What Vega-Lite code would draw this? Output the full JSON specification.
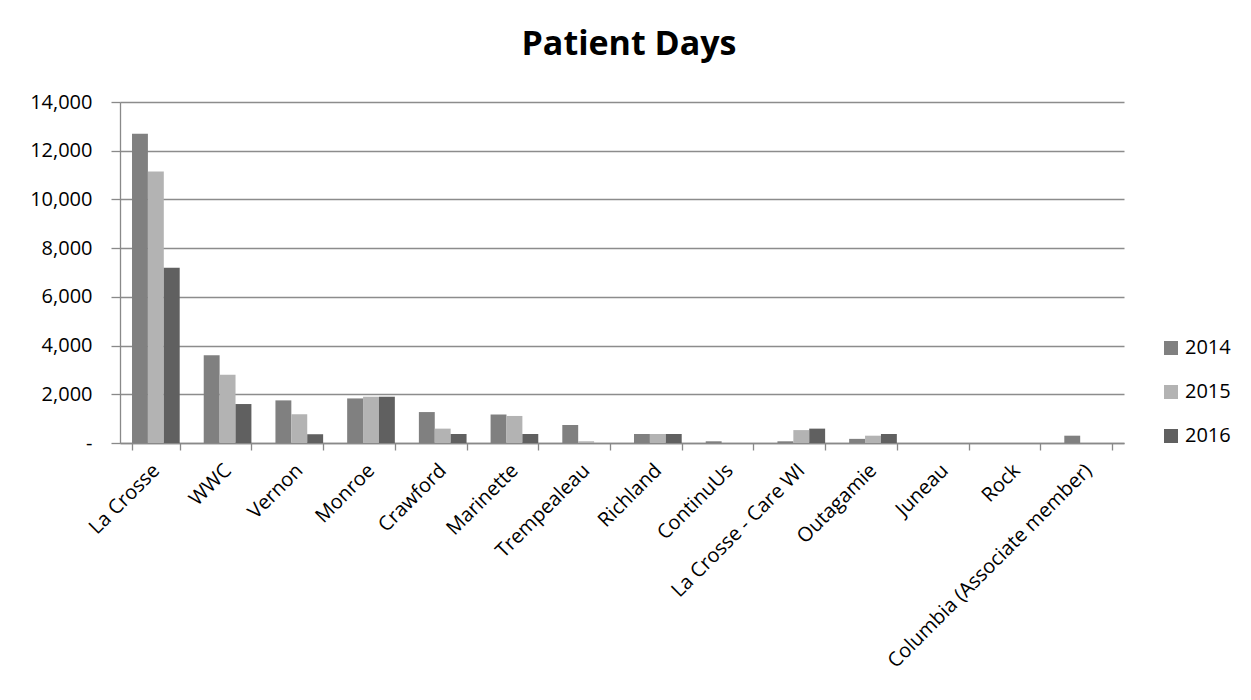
{
  "$schema": "https://vega.github.io/schema/vega-lite/v6.json",
  "autosize": "none",
  "width": 1004,
  "height": 341,
  "padding": {"left": 120, "top": 102, "right": 127, "bottom": 257},
  "background": "white",
  "config": {
    "font": "Open Sans",
    "view": {"stroke": null}
  },
  "title": {
    "text": "Patient Days",
    "fontSize": 34,
    "fontWeight": "bold",
    "font": "Open Sans",
    "color": "#000000",
    "anchor": "middle",
    "dx": 7,
    "offset": 30
  },
  "data": {
    "values": [
      {"county": "La Crosse", "year": "2014", "days": 12700},
      {"county": "La Crosse", "year": "2015", "days": 11150},
      {"county": "La Crosse", "year": "2016", "days": 7200},
      {"county": "WWC", "year": "2014", "days": 3600},
      {"county": "WWC", "year": "2015", "days": 2800},
      {"county": "WWC", "year": "2016", "days": 1600},
      {"county": "Vernon", "year": "2014", "days": 1750},
      {"county": "Vernon", "year": "2015", "days": 1180},
      {"county": "Vernon", "year": "2016", "days": 360},
      {"county": "Monroe", "year": "2014", "days": 1830},
      {"county": "Monroe", "year": "2015", "days": 1900},
      {"county": "Monroe", "year": "2016", "days": 1900},
      {"county": "Crawford", "year": "2014", "days": 1270},
      {"county": "Crawford", "year": "2015", "days": 590},
      {"county": "Crawford", "year": "2016", "days": 370},
      {"county": "Marinette", "year": "2014", "days": 1170},
      {"county": "Marinette", "year": "2015", "days": 1110},
      {"county": "Marinette", "year": "2016", "days": 370},
      {"county": "Trempealeau", "year": "2014", "days": 740},
      {"county": "Trempealeau", "year": "2015", "days": 70},
      {"county": "Trempealeau", "year": "2016", "days": 0},
      {"county": "Richland", "year": "2014", "days": 370},
      {"county": "Richland", "year": "2015", "days": 370},
      {"county": "Richland", "year": "2016", "days": 370},
      {"county": "ContinuUs", "year": "2014", "days": 70},
      {"county": "ContinuUs", "year": "2015", "days": 0},
      {"county": "ContinuUs", "year": "2016", "days": 0},
      {"county": "La Crosse - Care WI", "year": "2014", "days": 70},
      {"county": "La Crosse - Care WI", "year": "2015", "days": 530},
      {"county": "La Crosse - Care WI", "year": "2016", "days": 590},
      {"county": "Outagamie", "year": "2014", "days": 170},
      {"county": "Outagamie", "year": "2015", "days": 300},
      {"county": "Outagamie", "year": "2016", "days": 370},
      {"county": "Juneau", "year": "2014", "days": 0},
      {"county": "Juneau", "year": "2015", "days": 0},
      {"county": "Juneau", "year": "2016", "days": 0},
      {"county": "Rock", "year": "2014", "days": 0},
      {"county": "Rock", "year": "2015", "days": 0},
      {"county": "Rock", "year": "2016", "days": 0},
      {"county": "Columbia (Associate member)", "year": "2014", "days": 300},
      {"county": "Columbia (Associate member)", "year": "2015", "days": 0},
      {"county": "Columbia (Associate member)", "year": "2016", "days": 0}
    ]
  },
  "mark": {"type": "bar"},
  "encoding": {
    "x": {
      "field": "county",
      "type": "nominal",
      "sort": null,
      "title": null,
      "scale": {"paddingInner": 0.335, "paddingOuter": 0.1675},
      "axis": {
        "tickBand": "extent",
        "labelAngle": -45,
        "labelAlign": "right",
        "labelBaseline": "middle",
        "labelFontSize": 20,
        "labelColor": "#000000",
        "labelPadding": 17,
        "labelLimit": 400,
        "domainColor": "#898989",
        "domainWidth": 1.3,
        "tickColor": "#898989",
        "tickWidth": 1.3,
        "tickSize": 7,
        "grid": false
      }
    },
    "xOffset": {"field": "year", "type": "nominal", "scale": {"paddingInner": 0, "paddingOuter": 0}},
    "y": {
      "field": "days",
      "type": "quantitative",
      "title": null,
      "scale": {"domain": [0, 14000], "nice": false},
      "axis": {
        "values": [0, 2000, 4000, 6000, 8000, 10000, 12000, 14000],
        "labelExpr": "datum.value === 0 ? '-\u00a0\u00a0' : format(datum.value, ',')",
        "labelFontSize": 20,
        "labelColor": "#000000",
        "labelPadding": 19,
        "tickSize": 9,
        "tickColor": "#898989",
        "tickWidth": 1.3,
        "domainColor": "#898989",
        "domainWidth": 1.3,
        "grid": true,
        "gridColor": "#8c8c8c",
        "gridWidth": 1.3
      }
    },
    "color": {
      "field": "year",
      "type": "nominal",
      "title": null,
      "scale": {"domain": ["2014", "2015", "2016"], "range": ["#808080", "#b3b3b3", "#606060"]},
      "legend": {
        "orient": "none",
        "legendX": 1041,
        "legendY": 236,
        "symbolType": "square",
        "symbolSize": 196,
        "symbolStrokeWidth": 0,
        "labelFontSize": 20,
        "labelColor": "#000000",
        "labelOffset": 4,
        "rowPadding": 24
      }
    }
  }
}
